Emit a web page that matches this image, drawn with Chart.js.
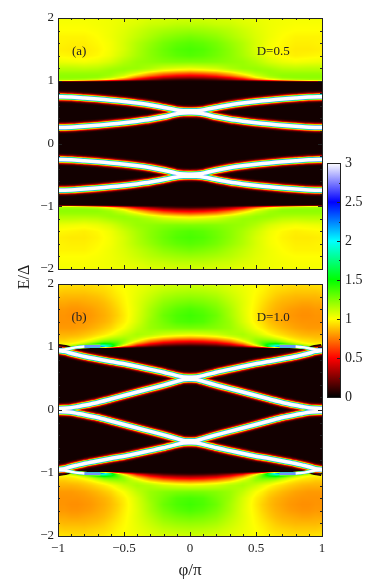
<!DOCTYPE html>
<html><head><meta charset="utf-8">
<style>
html,body{margin:0;padding:0;background:#fff;width:374px;height:584px;overflow:hidden}
canvas{position:absolute}
#ylab{position:absolute;left:4px;top:265px;width:40px;text-align:center;font:16px "Liberation Serif",serif;color:#222;transform:rotate(-90deg);line-height:24px}
</style>
<script src="https://cdn.jsdelivr.net/npm/chart.js@4/dist/chart.umd.min.js"></script>
</head><body>
<canvas id="pa" style="left:0;top:0"></canvas>
<canvas id="pb" style="left:0;top:276px"></canvas>
<canvas id="cb" style="left:320px;top:155px"></canvas>
<div id="ylab">E/Δ</div>
<script>
const SERIF='"Liberation Serif",serif', INK='#222';
// colour scale
const scaleStops=[0,0.5,1,1.5,2,2.5,3];
const scaleColors=[[0,0,0],[255,0,0],[255,255,0],[0,255,0],[0,255,255],[0,0,255],[255,255,255]];
// field value inside the gap (|E|<1)
const gapValue=0.035;
// grid of |E| levels shared by both panels
const energyLevels=[.985,1,1.02,1.05,1.08,1.12,1.16,1.2,1.3,1.4,1.5,1.6,1.7,1.8,1.9,2];
// panel (a): |phi| columns and DOS values read per |E| level
const phiLevelsA=[0,.1,.2,.3,.4,.5,.6,.7,.8,.9,1];
const fieldA=[
[.035,.035,.035,.035,.035,.035,.035,.035,.035,.035,.035],
[.06,.06,.08,.1,.15,.25,.4,.6,.8,.95,1.0],
[.12,.14,.18,.3,.45,.7,.95,1.1,1.15,1.18,1.18],
[.3,.32,.38,.5,.7,.98,1.12,1.2,1.22,1.22,1.22],
[.48,.5,.58,.72,.9,1.08,1.18,1.22,1.22,1.22,1.22],
[.68,.72,.78,.9,1.05,1.15,1.2,1.2,1.2,1.2,1.2],
[.92,.95,1,1.08,1.15,1.2,1.2,1.17,1.16,1.16,1.16],
[1.05,1.07,1.1,1.16,1.2,1.2,1.17,1.13,1.12,1.13,1.13],
[1.25,1.25,1.24,1.22,1.2,1.15,1.08,1.04,1.02,1.03,1.04],
[1.34,1.32,1.28,1.23,1.17,1.1,1.03,.99,.97,.98,.99],
[1.36,1.34,1.29,1.23,1.16,1.08,1.02,.98,.96,.96,.97],
[1.33,1.31,1.27,1.21,1.15,1.08,1.02,.99,.97,.97,.98],
[1.27,1.25,1.22,1.17,1.12,1.07,1.03,1,.98,.98,.98],
[1.2,1.19,1.17,1.14,1.1,1.06,1.03,1.01,1,1,1],
[1.13,1.13,1.11,1.1,1.07,1.05,1.03,1.02,1.01,1.01,1.01],
[1.09,1.08,1.08,1.07,1.05,1.04,1.03,1.02,1.02,1.02,1.02]];
// panel (b)
const phiLevelsB=[0,.1,.2,.3,.4,.5,.55,.6,.65,.7,.75,.8,.85,.9,.95,1];
const fieldB=[
[.035,.035,.035,.035,.035,.035,.035,.035,.035,.035,.035,.035,.035,.035,.035,.035],
[.05,.05,.07,.1,.2,.55,.9,1.6,2.2,2.6,2.7,2.4,2,1.6,1.3,1.2],
[.1,.12,.16,.28,.5,.95,1.3,1.7,1.95,2,1.8,1.5,1.3,1.15,1.1,1.05],
[.28,.3,.36,.5,.75,1.15,1.35,1.5,1.55,1.45,1.3,1.15,1.05,1,.98,.98],
[.45,.48,.55,.7,.95,1.2,1.3,1.32,1.3,1.2,1.1,1.03,.98,.95,.94,.94],
[.68,.7,.78,.9,1.08,1.2,1.2,1.18,1.13,1.06,1,.96,.93,.92,.9,.9],
[.9,.93,.98,1.07,1.15,1.15,1.12,1.08,1.02,.98,.94,.91,.89,.88,.87,.87],
[1.05,1.07,1.1,1.15,1.17,1.1,1.05,1,.96,.93,.9,.88,.86,.85,.85,.85],
[1.27,1.26,1.24,1.2,1.12,1.01,.97,.92,.89,.86,.84,.82,.81,.8,.8,.8],
[1.36,1.34,1.27,1.2,1.08,.97,.93,.88,.85,.83,.81,.8,.79,.79,.79,.79],
[1.38,1.35,1.29,1.18,1.07,.96,.91,.87,.84,.82,.8,.79,.78,.78,.79,.79],
[1.35,1.32,1.26,1.17,1.06,.97,.92,.88,.85,.83,.81,.8,.79,.79,.8,.8],
[1.28,1.26,1.22,1.14,1.06,.98,.94,.9,.87,.85,.84,.83,.82,.82,.83,.83],
[1.21,1.2,1.17,1.11,1.05,.99,.96,.93,.9,.88,.87,.86,.86,.86,.86,.87],
[1.15,1.14,1.12,1.08,1.04,1,.98,.95,.93,.92,.91,.9,.9,.9,.9,.91],
[1.1,1.09,1.08,1.06,1.03,1,.99,.98,.96,.95,.94,.94,.94,.94,.95,.95]];
// bound-state branches: |phi| sample points and E>0 energies
const branchPhiA=[0,.05,.1,.2,.3,.4,.5,.6,.7,.8,.9,1];
const upperA=[.52,.522,.533,.575,.615,.645,.67,.69,.71,.725,.74,.745];
const lowerA=[.49,.487,.475,.425,.385,.355,.33,.31,.29,.275,.26,.255];
const branchPhiB=[0,.05,.1,.2,.3,.4,.5,.6,.7,.8,.85,.9,.95,1];
const upperB=[.52,.525,.545,.6,.645,.69,.735,.77,.81,.85,.875,.9,.93,.945];
const lowerB=[.49,.485,.455,.395,.34,.285,.23,.175,.12,.075,.055,.035,.028,.025];
const edgePhiB=[.68,.75,.8,.85,.9,.95,1];
const edgeB=[1.012,1.012,1.008,.998,.98,.96,.955];
const edgeCorePhiB=[.8,.85,.9,.95,1];
const edgeCoreB=[1.008,.998,.98,.96,.955];
// stacked stroke widths and colours that build each sharp peak
const peakWidths=[13,11,9.2,7.8,6.8,6.1,5.5,5,4.5,4,3.5];
const peakColors=['#1e0000','#480000','#a00000','#ff1000','#ff9000','#ffe000','#90ff00','#00ff70','#00d0ff','#7090ff','#ffffff'];
// panel annotations
const notesA=[{t:'(a)',x:-.84,y:1.47},{t:'D=0.5',x:.63,y:1.47}];
const notesB=[{t:'(b)',x:-.84,y:1.47},{t:'D=1.0',x:.63,y:1.47}];
const xMajor=[-1,-.5,0,.5,1];

function colorAt(v){
  v=Math.max(0,Math.min(3,v));
  let i=Math.min(scaleStops.length-2,Math.floor(v/0.5));
  const f=(v-scaleStops[i])/0.5,a=scaleColors[i],b=scaleColors[i+1];
  return [a[0]+(b[0]-a[0])*f,a[1]+(b[1]-a[1])*f,a[2]+(b[2]-a[2])*f];
}
function seg(levels,t){
  let i=0; while(i<levels.length-2&&t>levels[i+1])i++;
  return [i,Math.max(0,Math.min(1,(t-levels[i])/(levels[i+1]-levels[i])))];
}
function sampler(phis,field){
  return (p,e)=>{
    const ae=Math.abs(e),ap=Math.abs(p);
    if(ae<energyLevels[0])return gapValue;
    const [r,fr]=seg(energyLevels,ae),[c,fc]=seg(phis,ap);
    const a=field[r][c]*(1-fc)+field[r][c+1]*fc,b=field[r+1][c]*(1-fc)+field[r+1][c+1]*fc;
    return a*(1-fr)+b*fr;
  };
}
const fieldPlugin={id:'field',beforeDatasetsDraw(ch,_,o){
  const {left,top,right,bottom}=ch.chartArea,w=Math.round(right-left),h=Math.round(bottom-top);
  const img=ch.ctx.createImageData(w,h),sx=ch.scales.x,sy=ch.scales.y,f=o.sample;
  for(let j=0;j<h;j++){const e=sy.getValueForPixel(top+j+.5);
    for(let i=0;i<w;i++){const p=sx.getValueForPixel(left+i+.5),c=colorAt(f(p,e)),k=4*(j*w+i);
      img.data[k]=c[0];img.data[k+1]=c[1];img.data[k+2]=c[2];img.data[k+3]=255;}}
  ch.ctx.putImageData(img,Math.round(left),Math.round(top));
}};
const framePlugin={id:'frame',afterDatasetsDraw(ch,_,o){
  const {left,top,right,bottom}=ch.chartArea,c=ch.ctx,sx=ch.scales.x,sy=ch.scales.y;
  c.save();c.strokeStyle=INK;c.lineWidth=1;c.beginPath();
  sx.ticks.forEach(t=>{const x=Math.round(sx.getPixelForValue(t.value))+.5,m=xMajor.some(v=>Math.abs(v-t.value)<1e-6),l=m?4:2;
    c.moveTo(x,top);c.lineTo(x,top+l);c.moveTo(x,bottom);c.lineTo(x,bottom-l);});
  sy.ticks.forEach(t=>{const y=Math.round(sy.getPixelForValue(t.value))+.5,m=Math.abs(t.value-Math.round(t.value))<1e-6,l=m?4:2;
    c.moveTo(left,y);c.lineTo(left+l,y);c.moveTo(right,y);c.lineTo(right-l,y);});
  c.stroke();c.strokeRect(left+.5,top+.5,right-left,bottom-top);
  c.fillStyle=INK;c.font='13px '+SERIF;c.textAlign='center';c.textBaseline='middle';
  o.notes.forEach(n=>c.fillText(n.t,sx.getPixelForValue(n.x),sy.getPixelForValue(n.y)));
  c.restore();
}};
const minus=s=>String(s).replace('-','\u2212');
const side=(phis,es,sign,dir)=>phis.map((p,i)=>({x:dir*p,y:sign*es[i]}));
const full=(phis,es,sign)=>side(phis,es,sign,-1).reverse().concat(side(phis,es,sign,1));
function bandSets(branches){
  const sets=[];
  peakWidths.forEach((w,i)=>{
    branches.forEach(b=>{
      const lo=b.from||0,hi=b.to===undefined?peakWidths.length-1:b.to;
      if(i<lo||i>hi)return;
      sets.push({data:b.pts,showLine:true,pointRadius:0,borderColor:peakColors[i],
        borderWidth:w*(b.scale||1),order:peakWidths.length-i,tension:0.25,borderCapStyle:'butt',borderJoinStyle:'round'});
    });
  });
  return sets;
}
function panel(id,w,h,top,bottom,phis,field,notes,branches,showX){
  const grid=[];field.forEach((row,r)=>row.forEach((v,c)=>grid.push({x:phis[c],y:energyLevels[r],v})));
  const el=document.getElementById(id);el.width=w;el.height=h;
  return new Chart(el,{type:'scatter',
    data:{datasets:[{data:grid,pointRadius:0,showLine:false,order:99}].concat(bandSets(branches))},
    options:{responsive:false,animation:false,events:[],
      layout:{padding:{top,right:w-322,left:0,bottom:0}},
      plugins:{legend:{display:false},tooltip:{enabled:false},
        field:{sample:sampler(phis,field)},frame:{notes}},
      scales:{
        x:{type:'linear',min:-1,max:1,border:{display:false},grid:{display:false,drawTicks:false},
          afterBuildTicks:a=>{a.ticks=[];for(let i=-10;i<=10;i++)a.ticks.push({value:i/10});},
          afterFit:a=>{a.height=h-bottom;a.paddingLeft=0;a.paddingRight=0;},
          ticks:{display:showX,padding:5,maxRotation:0,autoSkip:false,color:INK,font:{family:SERIF,size:13},
            callback:v=>i5(v)?minus(+v.toFixed(1)):''},
          title:{display:showX,text:'φ/π',color:INK,font:{family:SERIF,size:17},padding:{top:4,bottom:3}}},
        y:{type:'linear',min:-2,max:2,border:{display:false},grid:{display:false,drawTicks:false},
          afterBuildTicks:a=>{a.ticks=[];for(let i=-10;i<=10;i++)a.ticks.push({value:i/5});},
          afterFit:a=>{a.width=58;a.paddingTop=0;a.paddingBottom=0;},
          ticks:{padding:4,autoSkip:false,color:INK,font:{family:SERIF,size:13},
            callback:v=>Math.abs(v-Math.round(v))<1e-6?minus(Math.round(v)):''}}
      }},
    plugins:[fieldPlugin,framePlugin]});
}
const i5=v=>Math.abs(v*2-Math.round(v*2))<1e-6;
const both=(phis,es)=>[full(phis,es,1),full(phis,es,-1)];
const four=(phis,es)=>[side(phis,es,1,1),side(phis,es,1,-1),side(phis,es,-1,1),side(phis,es,-1,-1)];
const branchesA=[...both(branchPhiA,upperA),...both(branchPhiA,lowerA)].map(pts=>({pts}));
const branchesB=[...both(branchPhiB,upperB),...both(branchPhiB,lowerB)].map(pts=>({pts}))
  .concat(four(edgePhiB,edgeB).map(pts=>({pts,from:5,to:9,scale:.6})))
  .concat(four(edgeCorePhiB,edgeCoreB).map(pts=>({pts,from:10,scale:.7})));
panel('pa',326,275,18,269,phiLevelsA,fieldA,notesA,branchesA,false);
panel('pb',326,308,8,260,phiLevelsB,fieldB,notesB,branchesB,true);

// colour bar
const barRange=[0,3];
const cb=document.getElementById('cb');cb.width=54;cb.height=256;
new Chart(cb,{type:'bar',
  data:{labels:['scale'],datasets:[{data:[barRange],barPercentage:1,categoryPercentage:1,
    backgroundColor(ctx){
      const a=ctx.chart.chartArea;if(!a)return '#000';
      const s=ctx.chart.scales.y,g=ctx.chart.ctx.createLinearGradient(0,s.getPixelForValue(0),0,s.getPixelForValue(3));
      scaleStops.forEach((v,i)=>g.addColorStop(v/3,'rgb('+scaleColors[i].join(',')+')'));
      return g;}}]},
  options:{responsive:false,animation:false,events:[],
    layout:{padding:{left:7,top:8,bottom:14,right:0}},
    plugins:{legend:{display:false},tooltip:{enabled:false}},
    scales:{x:{display:false},
      y:{position:'right',min:0,max:3,border:{display:false},grid:{display:false,drawTicks:false},
        afterBuildTicks:a=>{a.ticks=[];for(let i=0;i<=12;i++)a.ticks.push({value:i/4});},
        afterFit:a=>{a.width=33;a.paddingTop=0;a.paddingBottom=0;},
        ticks:{padding:4,autoSkip:false,color:INK,font:{family:SERIF,size:14},
          callback:v=>i5(v)?String(v):''}}}},
  plugins:[{id:'cbframe',afterDatasetsDraw(ch){
    const {left,top,right,bottom}=ch.chartArea,c=ch.ctx,s=ch.scales.y;
    c.save();c.strokeStyle=INK;c.lineWidth=1;c.beginPath();
    s.ticks.forEach(t=>{const y=Math.round(s.getPixelForValue(t.value))+.5,l=i5(t.value)?4:2;c.moveTo(right,y);c.lineTo(right-l,y);});
    c.stroke();c.strokeRect(left+.5,top+.5,right-left-1,bottom-top);c.restore();}}]});
</script>
</body></html>
